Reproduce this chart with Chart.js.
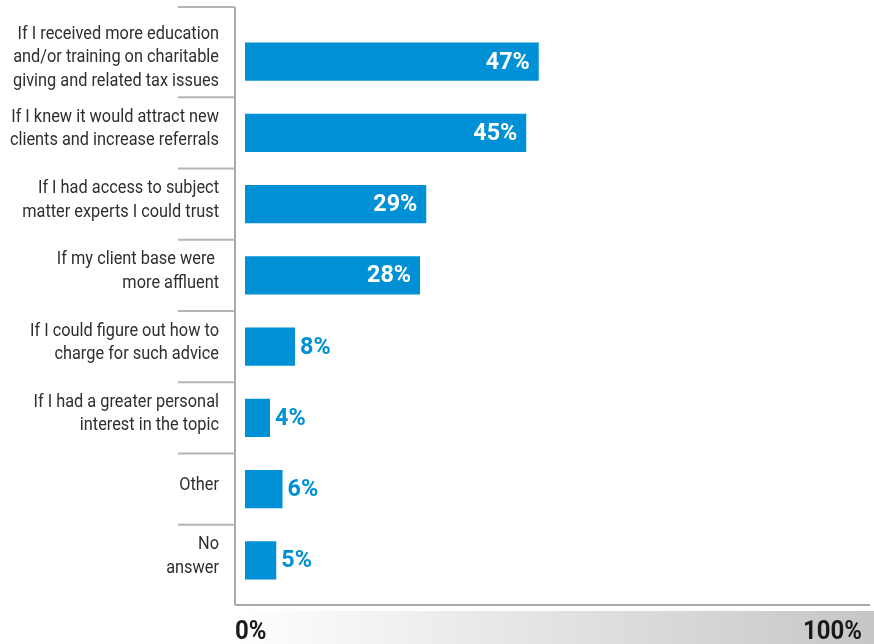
<!DOCTYPE html>
<html>
<head>
<meta charset="utf-8">
<script src="https://cdn.jsdelivr.net/npm/chart.js@4"></script>
<style>
  html, body { margin: 0; padding: 0; background: #fff; }
  #wrap { width: 874px; height: 644px; }
</style>
</head>
<body>
<div id="wrap"><canvas id="chart" width="874" height="644"></canvas></div>
<script>
// Data
const categories = [
    ['If I received more education', 'and/or training on charitable', 'giving and related tax issues'],
    ['If I knew it would attract new', 'clients and increase referrals'],
    ['If I had access to subject', 'matter experts I could trust'],
    ['If my client base were ', 'more affluent'],
    ['If I could figure out how to', 'charge for such advice'],
    ['If I had a greater personal', 'interest in the topic'],
    ['Other'],
    ['No', 'answer']
];
const percentValues = [47, 45, 29, 28, 8, 4, 6, 5];
const axisLabels = ['0%', '100%'];

const FONT = "Roboto, 'Liberation Sans', sans-serif";
const BLUE = '#0090d5';
const LINE = '#a9a9a9';

// draw text squeezed horizontally to look like a condensed face
function condensedText(ctx, txt, x, y, sx) {
    ctx.save();
    ctx.translate(x, y);
    ctx.scale(sx, 1);
    ctx.fillText(txt, 0, 0);
    ctx.restore();
}

// Frame, separators, category labels, value labels and the bottom band
const decorPlugin = {
    id: 'decor',
    afterDraw(chart) {
        const ctx = chart.ctx;
        const area = chart.chartArea;
        const y = chart.scales.y;
        const x = chart.scales.x;
        const axisX = area.left;
        const top = area.top - 19;
        const bottom = area.bottom + 9;

        ctx.save();
        ctx.strokeStyle = LINE;
        ctx.lineWidth = 2;
        ctx.beginPath();
        ctx.moveTo(axisX, top);
        ctx.lineTo(axisX, bottom);
        ctx.stroke();
        ctx.beginPath();
        ctx.moveTo(axisX, bottom);
        ctx.lineTo(area.right, bottom);
        ctx.stroke();

        ctx.strokeStyle = '#b4b4b4';
        const seps = [top];
        for (let i = 0; i < categories.length - 1; i++) {
            seps.push((y.getPixelForValue(i) + y.getPixelForValue(i + 1)) / 2);
        }
        seps.forEach(sy => {
            ctx.beginPath();
            ctx.moveTo(axisX - 57, sy);
            ctx.lineTo(axisX, sy);
            ctx.stroke();
        });

        // category labels
        ctx.font = '18.5px ' + FONT;
        ctx.fillStyle = '#2e2e2e';
        ctx.textAlign = 'right';
        ctx.textBaseline = 'middle';
        const labelScale = 206 / ctx.measureText('giving and related tax issues').width;
        const lineH = 23.5;
        categories.forEach((lines, i) => {
            const cy = y.getPixelForValue(i) - 4;
            lines.forEach((ln, k) => {
                const ly = cy + (k - (lines.length - 1) / 2) * lineH;
                condensedText(ctx, ln, axisX - 16, ly, labelScale);
            });
        });

        // value labels
        const meta = chart.getDatasetMeta(0);
        ctx.font = 'bold 24px ' + FONT;
        const valScale = 44 / ctx.measureText('47%').width;
        meta.data.forEach((bar, i) => {
            const v = percentValues[i];
            const txt = v + '%';
            if (v >= 20) {
                ctx.fillStyle = '#ffffff';
                ctx.textAlign = 'right';
                condensedText(ctx, txt, bar.x - 9, bar.y + 1, valScale);
            } else {
                ctx.fillStyle = BLUE;
                ctx.textAlign = 'left';
                condensedText(ctx, txt, bar.x + 5, bar.y + 1, valScale);
            }
        });

        // gradient band with 0% / 100%
        const bandTop = bottom + 6;
        const grad = ctx.createLinearGradient(axisX, 0, chart.width, 0);
        grad.addColorStop(0, '#ffffff');
        grad.addColorStop(1, '#c5c6c8');
        ctx.fillStyle = grad;
        ctx.fillRect(axisX, bandTop, chart.width - axisX, chart.height - bandTop);

        ctx.fillStyle = '#1a1a1a';
        ctx.font = 'bold 26px ' + FONT;
        ctx.textBaseline = 'alphabetic';
        const axScale = 59 / ctx.measureText('100%').width;
        ctx.textAlign = 'left';
        condensedText(ctx, axisLabels[0], x.getPixelForValue(x.min), chart.height - 5, axScale);
        ctx.textAlign = 'right';
        condensedText(ctx, axisLabels[1], x.getPixelForValue(x.max) - 8, chart.height - 5, axScale);
        ctx.restore();
    }
};

new Chart(document.getElementById('chart'), {
    type: 'bar',
    data: {
        labels: categories,
        datasets: [{
            data: percentValues,
            backgroundColor: BLUE,
            borderWidth: 0,
            categoryPercentage: 1,
            barPercentage: 0.535
        }]
    },
    options: {
        indexAxis: 'y',
        responsive: false,
        animation: false,
        layout: {
            padding: { top: 26, bottom: 48, right: 4, left: 0 }
        },
        plugins: {
            legend: { display: false },
            tooltip: { enabled: false }
        },
        scales: {
            x: {
                display: false,
                min: -1.6,
                max: 100
            },
            y: {
                afterFit: s => { s.width = 235; },
                border: { display: false },
                grid: { display: false, drawTicks: false },
                ticks: { display: false }
            }
        }
    },
    plugins: [decorPlugin]
});
</script>
</body>
</html>
